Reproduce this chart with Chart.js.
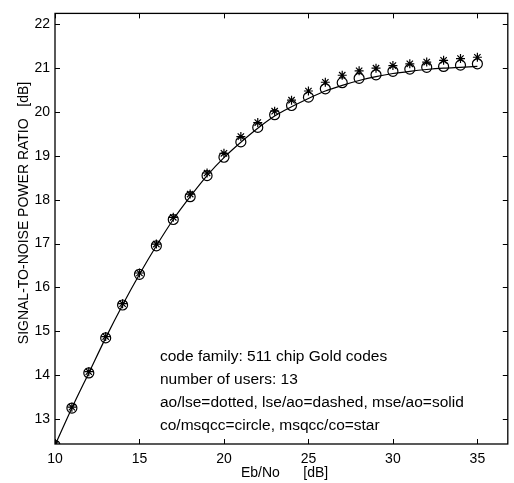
<!DOCTYPE html>
<html>
<head>
<meta charset="utf-8">
<script src="https://cdn.jsdelivr.net/npm/chart.js@4.4.1/dist/chart.umd.min.js"></script>
<style>
  html, body { margin: 0; padding: 0; background: #fff; }
  #wrap { width: 514px; height: 483px; }
</style>
</head>
<body>
<div id="wrap"><canvas id="snr" width="514" height="483"></canvas></div>
<script>
(function () {
    'use strict';

    // Eb/No [dB] sample points
    var ebno = [10, 11, 12, 13, 14, 15, 16, 17, 18, 19, 20, 21, 22,
                23, 24, 25, 26, 27, 28, 29, 30, 31, 32, 33, 34, 35];

    // co/msqcc (circles)
    var circleVals = [12.40, 13.25, 14.05, 14.85, 15.60, 16.30, 16.95, 17.55, 18.07, 18.55,
                      18.97, 19.32, 19.65, 19.94, 20.15, 20.34, 20.53, 20.67, 20.77, 20.85,
                      20.93, 20.98, 21.02, 21.04, 21.07, 21.10];

    // msqcc/co (stars)
    var starVals = [12.42, 13.27, 14.08, 14.88, 15.63, 16.33, 16.99, 17.60, 18.13, 18.61,
                    19.06, 19.44, 19.76, 20.02, 20.27, 20.48, 20.68, 20.84, 20.94, 21.00,
                    21.06, 21.10, 21.14, 21.18, 21.22, 21.25];

    // mse/ao (solid line)
    var lineVals = [12.40, 13.25, 14.05, 14.85, 15.60, 16.30, 16.95, 17.55, 18.07, 18.55,
                    18.96, 19.31, 19.63, 19.91, 20.12, 20.31, 20.48, 20.61, 20.72, 20.81,
                    20.88, 20.93, 20.97, 21.00, 21.02, 21.04];

    var xTicks = [10, 15, 20, 25, 30, 35];
    var yTicks = [13, 14, 15, 16, 17, 18, 19, 20, 21, 22];

    var notes = [
        'code family: 511 chip Gold codes',
        'number of users: 13',
        'ao/lse=dotted, lse/ao=dashed, mse/ao=solid',
        'co/msqcc=circle, msqcc/co=star'
    ];

    var FONT = '"Liberation Sans", Arial, Helvetica, sans-serif';

    function pts(ys) {
        return ebno.map(function (x, i) { return { x: x, y: ys[i] }; });
    }

    // box, inward tick marks and text, MATLAB style
    var boxPlugin = {
        id: 'box',
        afterDraw: function (chart) {
            var c = chart.ctx, a = chart.chartArea;
            var sx = chart.scales.x, sy = chart.scales.y;
            c.save();
            c.strokeStyle = '#000';
            c.lineWidth = 1.3;
            c.strokeRect(a.left, a.top, a.right - a.left, a.bottom - a.top);
            c.lineWidth = 1;
            c.beginPath();
            xTicks.forEach(function (v) {
                var px = Math.round(sx.getPixelForValue(v)) + 0.5;
                c.moveTo(px, a.bottom); c.lineTo(px, a.bottom - 5);
                c.moveTo(px, a.top); c.lineTo(px, a.top + 5);
            });
            yTicks.forEach(function (v) {
                var py = Math.round(sy.getPixelForValue(v)) + 0.5;
                c.moveTo(a.left, py); c.lineTo(a.left + 5, py);
                c.moveTo(a.right, py); c.lineTo(a.right - 5, py);
            });
            c.stroke();

            c.fillStyle = '#000';
            c.font = '15.5px ' + FONT;
            c.textAlign = 'left';
            c.textBaseline = 'middle';
            notes.forEach(function (t, i) {
                c.fillText(t, 160, 357 + i * 23);
            });

            c.font = '14px ' + FONT;
            c.fillText('Eb/No      [dB]', 241, 473);

            c.translate(24, 213);
            c.rotate(-Math.PI / 2);
            c.textAlign = 'center';
            c.font = '14px ' + FONT;
            c.fillText('SIGNAL-TO-NOISE POWER RATIO   [dB]', 0, 0);
            c.restore();
        }
    };

    new Chart(document.getElementById('snr'), {
        type: 'scatter',
        data: {
            datasets: [{
                label: 'mse/ao',
                type: 'line',
                data: pts(lineVals),
                borderColor: '#000',
                borderWidth: 1.2,
                pointRadius: 0,
                cubicInterpolationMode: 'monotone',
                fill: false,
                order: 3
            }, {
                label: 'co/msqcc',
                data: pts(circleVals),
                pointStyle: 'circle',
                pointRadius: 5,
                borderColor: '#000',
                borderWidth: 1.2,
                backgroundColor: 'rgba(0,0,0,0)',
                order: 2
            }, {
                label: 'msqcc/co',
                data: pts(starVals),
                pointStyle: 'star',
                pointRadius: 4.5,
                borderColor: '#000',
                borderWidth: 1.2,
                backgroundColor: 'rgba(0,0,0,0)',
                order: 1
            }]
        },
        options: {
            responsive: false,
            animation: false,
            layout: { padding: { top: 12, right: 2, left: 0, bottom: 0 } },
            plugins: {
                legend: { display: false },
                tooltip: { enabled: false }
            },
            scales: {
                x: {
                    type: 'linear',
                    min: 10,
                    max: 36.8,
                    grid: { display: false, drawTicks: false },
                    border: { display: false },
                    afterBuildTicks: function (s) {
                        s.ticks = xTicks.map(function (v) { return { value: v }; });
                    },
                    afterFit: function (s) { s.height = 39; },
                    ticks: {
                        color: '#000',
                        padding: 7,
                        maxRotation: 0,
                        font: { family: FONT, size: 14 }
                    }
                },
                y: {
                    min: 12.43,
                    max: 22.25,
                    grid: { display: false, drawTicks: false },
                    border: { display: false },
                    afterBuildTicks: function (s) {
                        s.ticks = yTicks.map(function (v) { return { value: v }; });
                    },
                    afterFit: function (s) { s.width = 55; },
                    ticks: {
                        color: '#000',
                        padding: 5,
                        font: { family: FONT, size: 14 }
                    }
                }
            }
        },
        plugins: [boxPlugin]
    });
})();
</script>
</body>
</html>
